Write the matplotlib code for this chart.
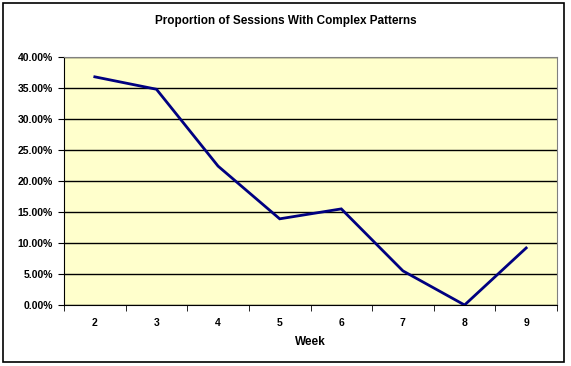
import matplotlib
matplotlib.use("Agg")
import matplotlib.pyplot as plt
from matplotlib.patches import Rectangle
from matplotlib.ticker import FuncFormatter, FixedLocator

# data
weeks = ["2", "3", "4", "5", "6", "7", "8", "9"]
proportion = [0.368, 0.348, 0.224, 0.139, 0.155, 0.055, 0.0, 0.092]

plt.rcParams['font.family'] = ['Liberation Sans', 'DejaVu Sans']
W, H = 571, 366
fig = plt.figure(figsize=(W / 100, H / 100), dpi=100)

# outer chart frame
fig.patches.append(Rectangle((3 / W, 1 - 362 / H), 561 / W, 359 / H, transform=fig.transFigure,
                             fill=False, edgecolor="black", linewidth=1.2))

ax = fig.add_axes([64 / W, 1 - 305 / H, 493 / W, 248 / H])
ax.set_facecolor("#FFFFCC")

x = list(range(len(weeks)))
ax.plot(x, proportion, color="#000080", linewidth=2.0, solid_joinstyle="miter", zorder=3)

ax.set_xlim(-0.5, len(weeks) - 0.5)
ax.set_ylim(0, 0.40)
ax.set_yticks([i * 0.05 for i in range(9)])
ax.yaxis.set_major_formatter(FuncFormatter(lambda v, p: f"{v * 100:.2f}%"))
ax.grid(axis="y", color="black", linewidth=1)
ax.set_axisbelow(True)

ax.set_xticks(x)
ax.set_xticklabels(weeks)
ax.xaxis.set_minor_locator(FixedLocator([i - 0.5 for i in range(len(weeks) + 1)]))
ax.tick_params(axis="x", which="major", length=0, pad=9)
ax.tick_params(axis="x", which="minor", length=4, direction="out", color="black")
ax.tick_params(axis="y", length=4, direction="out", pad=4)
for lab in ax.get_xticklabels() + ax.get_yticklabels():
    lab.set_fontsize(7.5)
    lab.set_fontweight("bold")

ax.spines["top"].set_color("#808080")
ax.spines["right"].set_color("#808080")
ax.spines["left"].set_color("black")
ax.spines["bottom"].set_color("black")

ax.set_xlabel("Week", fontsize=8.5, fontweight="bold", labelpad=6)
fig.text(0.5, 1 - 21 / H, "Proportion of Sessions With Complex Patterns", ha="center", va="center",
         fontsize=8.5, fontweight="bold")

fig.savefig("out.png", dpi=100)
